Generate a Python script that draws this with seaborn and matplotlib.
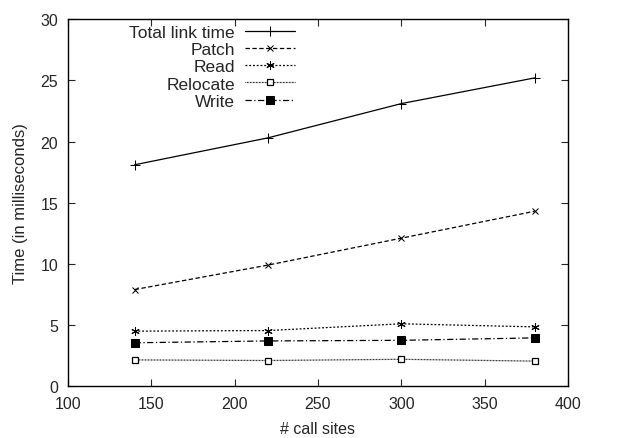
import pandas as pd
import matplotlib.pyplot as plt
import seaborn as sns

# Data
call_sites = [140, 220, 300, 380]
total_link = [18.1, 20.3, 23.1, 25.2]
patch = [7.9, 9.9, 12.1, 14.3]
read = [4.5, 4.55, 5.1, 4.85]
relocate = [2.15, 2.1, 2.2, 2.05]
write = [3.55, 3.7, 3.75, 3.95]

series = {
    "Total link time": total_link,
    "Patch": patch,
    "Read": read,
    "Relocate": relocate,
    "Write": write,
}

rows = []
for name, vals in series.items():
    for x, y in zip(call_sites, vals):
        rows.append({"sites": x, "time": y, "series": name})
df = pd.DataFrame(rows)

sns.set_style("ticks")
plt.rcParams["font.family"] = ["Liberation Sans", "DejaVu Sans"]
plt.rcParams["font.size"] = 12

styles = {
    "Total link time": dict(linestyle="-", marker="+", markersize=7, mfc="black"),
    "Patch": dict(linestyle=(0, (3.5, 2)), marker="x", markersize=5, mfc="black"),
    "Read": dict(linestyle=(0, (1.5, 1.5)), marker=(6, 2, 0), markersize=6, mfc="black"),
    "Relocate": dict(linestyle=(0, (0.6, 0.6)), marker="s", markersize=5,
                     mfc="white", markeredgewidth=0.9),
    "Write": dict(linestyle=(0, (5, 2, 1, 2)), marker="s", markersize=6, mfc="black"),
}

fig = plt.figure(figsize=(6.18, 4.39), dpi=100)
ax = fig.add_axes([0.110, 0.118, 0.809, 0.836])

for name in series:
    sub = df[df["series"] == name]
    sns.lineplot(data=sub, x="sites", y="time", ax=ax, label=name, color="black",
                 linewidth=0.9, mec="black", **styles[name])

ax.set_xlim(100, 400)
ax.set_ylim(0, 30)
ax.set_xticks(range(100, 401, 50))
ax.set_yticks(range(0, 31, 5))
ax.set_xlabel("# call sites", fontsize=11.5, labelpad=7)
ax.set_ylabel("Time (in milliseconds)", fontsize=12, labelpad=9)
ax.tick_params(direction="in", top=True, right=True, length=5, width=0.8, labelsize=11.5, pad=7)
for s in ax.spines.values():
    s.set_visible(True)
    s.set_linewidth(1.0)
    s.set_color("black")

# legend: labels right-aligned, sample line to the right of the text
ax.legend(loc="upper right", bbox_to_anchor=(0.454, 0.985), frameon=False, markerfirst=False,
          handlelength=2.9, fontsize=12.5, labelspacing=0.12, borderaxespad=0.0, borderpad=0.0,
          handletextpad=0.55)

fig.savefig("out.png", dpi=100)
